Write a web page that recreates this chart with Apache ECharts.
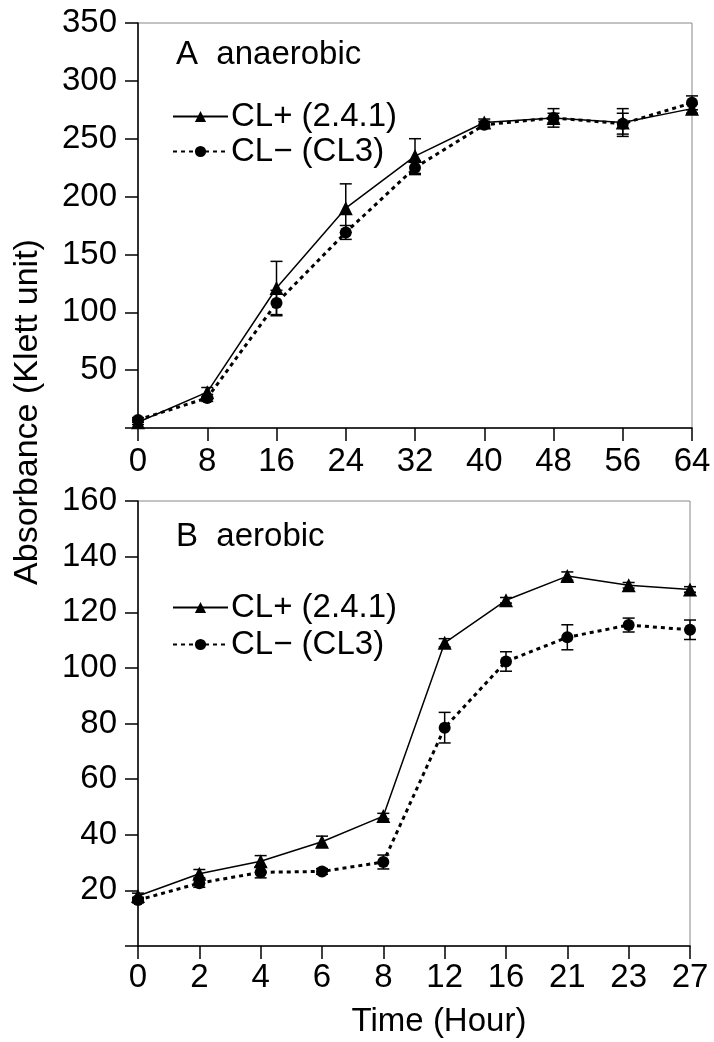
<!DOCTYPE html>
<html>
<head>
<meta charset="utf-8">
<script src="https://cdn.jsdelivr.net/npm/echarts@6/dist/echarts.min.js"></script>
<style>
    html, body { margin: 0; padding: 0; background: #fff; }
    #chart { width: 714px; height: 1042px; }
</style>
</head>
<body>
<div id="chart"></div>
<script>
// panel A: anaerobic (hours)
const hoursA = [0, 8, 16, 24, 32, 40, 48, 56, 64];
const clPlusA = [5, 31, 121, 190, 235, 264, 268, 264, 276];
const clMinusA = [7, 26, 108, 169, 225, 262, 268, 263, 281];
const errPlusA = [2, 4, 23, 21, 15, 3, 8, 12, 4];
const errMinusA = [2, 3, 11, 6, 6, 3, 4, 9, 6];

// panel B: aerobic (hours, evenly spaced categories)
const hoursB = ['0', '2', '4', '6', '8', '12', '16', '21', '23', '27'];
const clPlusB = [18, 26, 30.5, 37.5, 46.7, 109, 124.3, 133, 129.7, 128.2];
const clMinusB = [16.5, 22.6, 26.5, 26.8, 30.2, 78.5, 102.3, 111, 115.4, 113.7];
const errPlusB = [1, 1.5, 2, 2, 1, 1.5, 1, 1.5, 1, 1];
const errMinusB = [1, 1.5, 2, 1, 2.5, 5.5, 3.5, 4.5, 2.5, 3.5];

const yTicksA = { min: 0, max: 350, interval: 50 };
const yTicksB = { min: 0, max: 160, interval: 20 };

const NAME_PLUS = 'CL+ (2.4.1)';
const NAME_MINUS = 'CL\u2212 (CL3)';
const FONT = 'Liberation Sans, Arial, sans-serif';
const FS = 33;

const chart = echarts.init(document.getElementById('chart'));

function errorRender(params, api) {
    const x = api.value(0);
    const lo = api.coord([x, api.value(1)]);
    const hi = api.coord([x, api.value(2)]);
    const w = 6;
    const st = { stroke: '#000', lineWidth: 1.5 };
    return {
        type: 'group',
        children: [
            { type: 'line', shape: { x1: lo[0], y1: lo[1], x2: hi[0], y2: hi[1] }, style: st },
            { type: 'line', shape: { x1: lo[0] - w, y1: lo[1], x2: lo[0] + w, y2: lo[1] }, style: st },
            { type: 'line', shape: { x1: hi[0] - w, y1: hi[1], x2: hi[0] + w, y2: hi[1] }, style: st },
        ],
    };
}

function errData(xs, vals, errs, useIndex) {
    return vals.map((v, i) => [useIndex ? i : xs[i], v - errs[i], v + errs[i]]);
}

const axisLine = { show: true, lineStyle: { color: '#000', width: 1.5 } };
const axisTick = { show: true, length: 13, lineStyle: { color: '#000', width: 1.5 } };
const labelStyle = { color: '#000', fontSize: FS, fontFamily: FONT };
const hideZero = v => (v === 0 ? '' : v);

const plusLine = { color: '#000', width: 1.5, type: 'solid' };
const minusLine = { color: '#000', width: 3, type: [4, 4] };

const legendBase = {
    orient: 'vertical',
    left: 167,
    itemWidth: 55,
    itemHeight: 14,
    itemGap: 2,
    textStyle: { color: '#000', fontSize: FS, fontFamily: FONT, lineHeight: 33, padding: [0, 0, 0, -2] },
    data: [NAME_PLUS, NAME_MINUS],
};

const option = {
    animation: false,
    backgroundColor: '#fff',
    grid: [
        { left: 138, top: 23, width: 554, height: 405, show: true, borderColor: '#888', borderWidth: 1 },
        { left: 138, top: 501, width: 552, height: 445, show: true, borderColor: '#888', borderWidth: 1 },
    ],
    xAxis: [
        {
            gridIndex: 0, type: 'value', min: 0, max: 64, interval: 8,
            splitLine: { show: false }, axisLine, axisTick,
            axisLabel: Object.assign({ margin: 17 }, labelStyle),
        },
        {
            gridIndex: 1, type: 'category', data: hoursB, boundaryGap: false,
            splitLine: { show: false }, axisLine, axisTick,
            axisLabel: Object.assign({ margin: 15 }, labelStyle),
        },
    ],
    yAxis: [
        {
            gridIndex: 0, type: 'value', min: yTicksA.min, max: yTicksA.max, interval: yTicksA.interval,
            splitLine: { show: false }, axisLine, axisTick,
            axisLabel: Object.assign({ margin: 21, formatter: hideZero }, labelStyle),
        },
        {
            gridIndex: 1, type: 'value', min: yTicksB.min, max: yTicksB.max, interval: yTicksB.interval,
            splitLine: { show: false }, axisLine, axisTick,
            axisLabel: Object.assign({ margin: 21, formatter: hideZero }, labelStyle),
        },
    ],
    legend: [
        Object.assign({ top: 95 }, legendBase),
        Object.assign({}, legendBase, { top: 586, itemGap: 4 }),
    ],
    graphic: [
        { type: 'text', left: 176, top: 38, style: { text: 'A  anaerobic', font: FS + 'px ' + FONT, fill: '#000' } },
        { type: 'text', left: 176, top: 520, style: { text: 'B  aerobic', font: FS + 'px ' + FONT, fill: '#000' } },
        {
            type: 'text', x: 28, y: 412, rotation: Math.PI / 2,
            style: { text: 'Absorbance (Klett unit)', font: '34px ' + FONT, fill: '#000', align: 'center', verticalAlign: 'middle' },
        },
        {
            type: 'text', x: 439, y: 1022,
            style: { text: 'Time (Hour)', font: FS + 'px ' + FONT, fill: '#000', align: 'center', verticalAlign: 'middle' },
        },
    ],
    series: [
        {
            type: 'custom', xAxisIndex: 0, yAxisIndex: 0, renderItem: errorRender,
            encode: { x: 0, y: [1, 2] }, data: errData(hoursA, clPlusA, errPlusA, false), z: 1,
        },
        {
            type: 'custom', xAxisIndex: 0, yAxisIndex: 0, renderItem: errorRender,
            encode: { x: 0, y: [1, 2] }, data: errData(hoursA, clMinusA, errMinusA, false), z: 1,
        },
        {
            type: 'custom', xAxisIndex: 1, yAxisIndex: 1, renderItem: errorRender,
            encode: { x: 0, y: [1, 2] }, data: errData(hoursB, clPlusB, errPlusB, true), z: 1,
        },
        {
            type: 'custom', xAxisIndex: 1, yAxisIndex: 1, renderItem: errorRender,
            encode: { x: 0, y: [1, 2] }, data: errData(hoursB, clMinusB, errMinusB, true), z: 1,
        },
        {
            name: NAME_PLUS, type: 'line', xAxisIndex: 0, yAxisIndex: 0,
            data: hoursA.map((h, i) => [h, clPlusA[i]]),
            symbol: 'triangle', symbolSize: 14, itemStyle: { color: '#000' }, lineStyle: plusLine, z: 3,
        },
        {
            name: NAME_MINUS, type: 'line', xAxisIndex: 0, yAxisIndex: 0,
            data: hoursA.map((h, i) => [h, clMinusA[i]]),
            symbol: 'circle', symbolSize: 12, itemStyle: { color: '#000' }, lineStyle: minusLine, z: 2,
        },
        {
            name: NAME_PLUS, type: 'line', xAxisIndex: 1, yAxisIndex: 1,
            data: clPlusB,
            symbol: 'triangle', symbolSize: 14, itemStyle: { color: '#000' }, lineStyle: plusLine, z: 3,
        },
        {
            name: NAME_MINUS, type: 'line', xAxisIndex: 1, yAxisIndex: 1,
            data: clMinusB,
            symbol: 'circle', symbolSize: 12, itemStyle: { color: '#000' }, lineStyle: minusLine, z: 2,
        },
    ],
};

chart.setOption(option);
</script>
</body>
</html>
